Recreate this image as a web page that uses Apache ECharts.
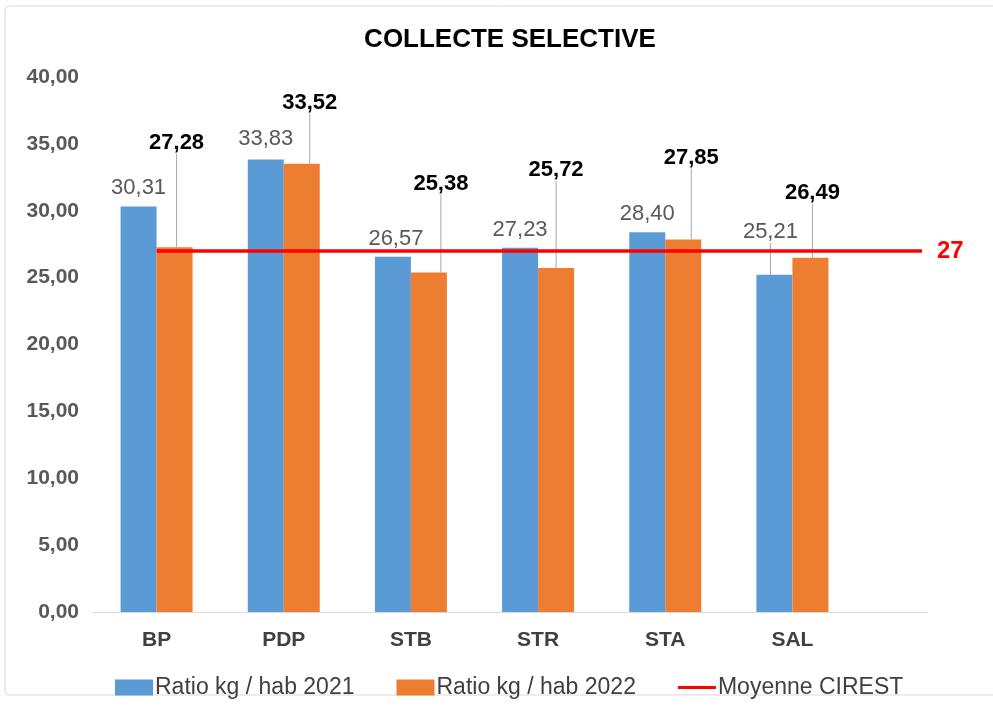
<!DOCTYPE html>
<html>
<head>
<meta charset="utf-8">
<script src="https://cdn.jsdelivr.net/npm/echarts@6/dist/echarts.min.js"></script>
<style>
  html, body { margin: 0; padding: 0; background: #fff; }
  #chart1 { width: 993px; height: 709px; }
</style>
</head>
<body>
<div id="chart1"></div>
<script>
// donnees
var communes = ['BP', 'PDP', 'STB', 'STR', 'STA', 'SAL'];
var ratio2021 = [30.31, 33.83, 26.57, 27.23, 28.40, 25.21];
var ratio2022 = [27.28, 33.52, 25.38, 25.72, 27.85, 26.49];
var moyenneCirest = 27;
var yTicks = [0, 5, 10, 15, 20, 25, 30, 35, 40];

// decalage des etiquettes (dx, dy) pour les traits de rappel
var shift2021 = [[0, -3], [0, -5], [3, -2], [0, -2], [0, -2], [-4, -27]];
var shift2022 = [[2, -88], [8, -45], [12, -73], [0, -82], [8, -66], [2, -49]];
var line2021 = [false, false, false, false, false, true];

var fontFam = '"Liberation Sans", Arial, sans-serif';

function fr(v) {
    return v.toFixed(2).replace('.', ',');
}

var data2021 = ratio2021.map(function (v, i) {
    return { value: v, labelLine: { show: line2021[i] } };
});
var data2022 = ratio2022.map(function (v) {
    return { value: v, labelLine: { show: true } };
});

var chart = echarts.init(document.getElementById('chart1'));

var option = {
    backgroundColor: '#fff',
    animation: false,
    textStyle: { fontFamily: fontFam },
    graphic: [{
        type: 'rect',
        shape: { x: 5, y: 6, width: 1000, height: 689, r: 4 },
        style: { fill: 'none', stroke: '#d9d9d9', lineWidth: 1 },
        silent: true
    }],
    title: {
        text: 'COLLECTE SELECTIVE',
        left: 505,
        textAlign: 'center',
        top: 22,
        textStyle: { fontSize: 26, fontWeight: 'bold', color: '#000', fontFamily: fontFam }
    },
    legend: {
        left: 110,
        top: 671,
        itemWidth: 38,
        itemHeight: 16,
        itemGap: 42,
        textStyle: { fontSize: 23, color: '#404040', fontFamily: fontFam, padding: [0, 0, 0, -3] },
        data: [
            { name: 'Ratio kg / hab 2021', icon: 'rect' },
            { name: 'Ratio kg / hab 2022', icon: 'rect' },
            { name: 'Moyenne CIREST', icon: 'path://M0,0 L36,0 L36,3 L0,3 Z' }
        ]
    },
    grid: [
        { left: 93, top: 77, width: 763, height: 535 },
        { left: 93, top: 77, width: 835, height: 535 }
    ],
    xAxis: [{
        type: 'category',
        gridIndex: 0,
        data: communes,
        axisLine: { show: false },
        axisTick: { show: false },
        axisLabel: { fontSize: 21, fontWeight: 'bold', color: '#404040', margin: 18, fontFamily: fontFam }
    }, {
        type: 'category',
        gridIndex: 1,
        data: [''],
        axisLine: { show: true, lineStyle: { color: '#d9d9d9', width: 1 } },
        axisTick: { show: false },
        axisLabel: { show: false }
    }],
    yAxis: [{
        type: 'value',
        gridIndex: 0,
        min: yTicks[0],
        max: yTicks[yTicks.length - 1],
        interval: 5,
        splitLine: { show: false },
        axisLine: { show: false },
        axisTick: { show: false },
        axisLabel: {
            fontSize: 21, fontWeight: 'bold', color: '#595959', margin: 14, fontFamily: fontFam,
            formatter: function (v) { return fr(v); }
        }
    }, {
        type: 'value',
        gridIndex: 1,
        min: 0,
        max: 40,
        show: false
    }],
    series: [{
        name: 'Ratio kg / hab 2021',
        type: 'bar',
        xAxisIndex: 0,
        yAxisIndex: 0,
        barWidth: 36,
        barGap: '0%',
        itemStyle: { color: '#5B9BD5' },
        data: data2021,
        label: {
            show: true,
            position: 'top',
            fontSize: 22,
            color: '#595959',
            fontFamily: fontFam,
            formatter: function (p) { return fr(p.value); }
        },
        labelLine: { lineStyle: { color: '#a6a6a6', width: 1 } },
        labelLayout: function (p) {
            return { dx: shift2021[p.dataIndex][0], dy: shift2021[p.dataIndex][1] };
        }
    }, {
        name: 'Ratio kg / hab 2022',
        type: 'bar',
        xAxisIndex: 0,
        yAxisIndex: 0,
        barWidth: 36,
        barGap: '0%',
        itemStyle: { color: '#ED7D31' },
        data: data2022,
        label: {
            show: true,
            position: 'top',
            fontSize: 22,
            fontWeight: 'bold',
            color: '#000',
            fontFamily: fontFam,
            formatter: function (p) { return fr(p.value); }
        },
        labelLine: { lineStyle: { color: '#a6a6a6', width: 1 } },
        labelLayout: function (p) {
            return { dx: shift2022[p.dataIndex][0], dy: shift2022[p.dataIndex][1] };
        }
    }, {
        name: 'Moyenne CIREST',
        type: 'line',
        xAxisIndex: 0,
        yAxisIndex: 0,
        itemStyle: { color: '#FF0000' },
        lineStyle: { color: '#FF0000', width: 3 },
        data: communes.map(function () { return '-'; }),
        markLine: {
            silent: true,
            symbol: 'none',
            lineStyle: { color: '#FF0000', width: 3.5, type: 'solid' },
            label: {
                show: true,
                position: 'end',
                distance: 15,
                fontSize: 24,
                fontWeight: 'bold',
                color: '#FF0000',
                fontFamily: fontFam,
                formatter: String(moyenneCirest)
            },
            data: [[
                { xAxis: communes[0], yAxis: moyenneCirest },
                { xAxis: communes[communes.length - 1], yAxis: moyenneCirest, x: 922 }
            ]]
        }
    }]
};

chart.setOption(option, true);
</script>
</body>
</html>
